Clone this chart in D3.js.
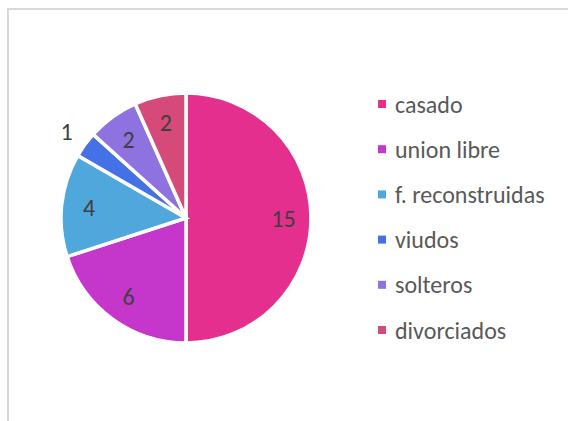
<!DOCTYPE html>
<html><head><meta charset="utf-8">
<script src="https://cdn.jsdelivr.net/npm/d3@7"></script>
<style>body{margin:0;background:#fff}svg{display:block}</style>
</head><body>
<svg id="c" width="568" height="421"></svg>
<script>
const categories = ["casado","union libre","f. reconstruidas","viudos","solteros","divorciados"];
const values = [15,6,4,1,2,2];
const colors = ["#E42F8F","#C536CB","#4FA7DC","#4472E6","#8E72E0","#D54A78"];

const svg = d3.select("#c");
// chart frame
svg.append("path").attr("d","M8,430 V9 H580").attr("fill","none").attr("stroke","#D9D9D9").attr("stroke-width",2);

const cx = 186, cy = 218, r = 125;
const data = categories.map((c,i)=>({cat:c, v:values[i], color:colors[i]}));
const pie = d3.pie().value(d=>d.v).sort(null);
const arcs = pie(data);
const arc = d3.arc().innerRadius(0).outerRadius(r);
const g = svg.append("g").attr("transform",`translate(${cx},${cy})`);
g.selectAll("path").data(arcs).join("path")
  .attr("d",arc).attr("fill",d=>d.data.color)
  .attr("stroke","#fff").attr("stroke-width",3.5).attr("stroke-linejoin","miter");

const inLab = d3.arc().innerRadius(r*0.78).outerRadius(r*0.78);
const outLab = d3.arc().innerRadius(r*1.18).outerRadius(r*1.18);
g.selectAll("text").data(arcs).join("text")
  .attr("transform",d=>`translate(${(d.data.v<2?outLab:inLab).centroid(d)})`)
  .attr("text-anchor","middle").attr("dominant-baseline","central")
  .attr("font-family","Carlito, Lato, 'Open Sans', sans-serif").attr("font-size",24)
  .attr("fill","#404040").text(d=>d.data.v);

const ly = d3.scalePoint().domain(categories).range([104,330]);
const lg = svg.append("g");
const items = lg.selectAll("g").data(data).join("g")
  .attr("transform",d=>`translate(378,${ly(d.cat)})`);
items.append("rect").attr("x",0).attr("y",-4).attr("width",8).attr("height",8).attr("fill",d=>d.color);
items.append("text").attr("x",17).attr("dominant-baseline","central")
  .attr("font-family","Carlito, Lato, 'Open Sans', sans-serif").attr("font-size",24)
  .attr("fill","#595959").text(d=>d.cat);
</script>
</body></html>
